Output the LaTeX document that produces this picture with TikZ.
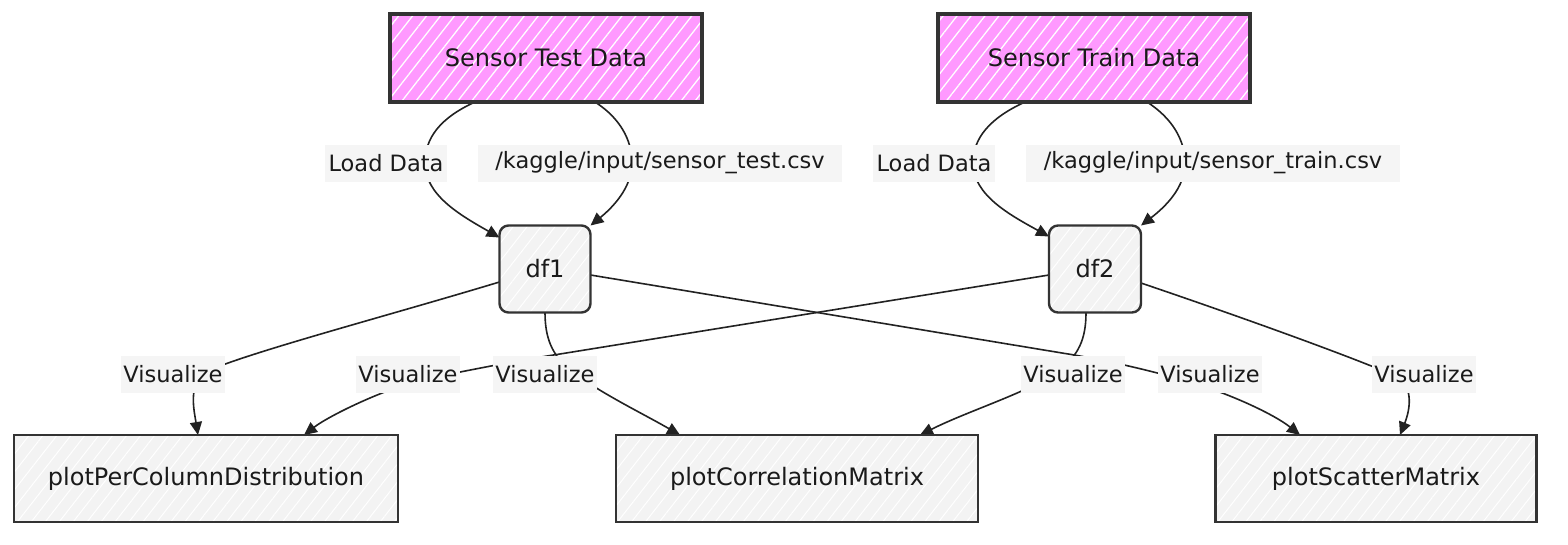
\documentclass[tikz,border=0pt]{standalone}
\usepackage{fontspec}
\setmainfont{DejaVu Sans}
\usetikzlibrary{arrows.meta,patterns.meta}
\definecolor{pinkfill}{HTML}{FF99FF}
\definecolor{grayfill}{HTML}{F3F3F3}
\definecolor{bordc}{HTML}{333333}
\definecolor{edgec}{HTML}{222222}
\definecolor{labfill}{HTML}{F5F5F5}
\definecolor{txtc}{HTML}{1A1A1A}
\pgfdeclarelayer{edgelayer}
\pgfsetlayers{edgelayer,main}
\begin{document}
\begin{tikzpicture}[x=1pt,y=-1pt,
  every node/.style={inner sep=0pt, outer sep=0pt, text=txtc},
  srcbox/.style={draw=bordc, line width=3.2pt, preaction={fill=pinkfill},
    pattern={Lines[angle=52,distance=11pt,line width=1.3pt]}, pattern color=white,
    minimum width=312pt, minimum height=88pt, font=\fontsize{24}{28}\selectfont},
  dfbox/.style={draw=bordc, line width=2.4pt, rounded corners=9pt, preaction={fill=grayfill},
    pattern={Lines[angle=52,distance=11pt,line width=1pt]}, pattern color=white,
    minimum width=91pt, minimum height=87pt, font=\fontsize{24}{28}\selectfont},
  plotbox/.style={draw=bordc, line width=2.4pt, preaction={fill=grayfill},
    pattern={Lines[angle=52,distance=11pt,line width=1pt]}, pattern color=white,
    minimum height=87pt, font=\fontsize{24}{28}\selectfont},
  lab/.style={fill=labfill, minimum height=37pt, font=\fontsize{22.5}{26}\selectfont},
  edge/.style={draw=edgec, line width=1.6pt, line cap=round, line join=round,
    -{Triangle[length=13pt,width=12pt]}}
]
\useasboundingbox (0,0) rectangle (1568,544);

% main nodes
\node[srcbox] (std) at (546,58) {Sensor Test Data};
\node[srcbox] (train) at (1094,58) {Sensor Train Data};
\node[dfbox] (df1) at (545,269) {df1};
\node[dfbox, minimum width=92pt] (df2) at (1095,269) {df2};
\node[plotbox, minimum width=384pt] (percol) at (206,478.5) {plotPerColumnDistribution};
\node[plotbox, minimum width=362pt] (corr) at (797,478.5) {plotCorrelationMatrix};
\node[plotbox, minimum width=321pt] (scatter) at (1376,478.5) {plotScatterMatrix};

% edge labels
\node[lab, minimum width=122pt] (l1) at (386,163) {Load Data};
\node[lab, minimum width=364pt] (l2) at (660,163) {/kaggle/input/sensor\_test.csv};
\node[lab, minimum width=122pt] (l3) at (934,163) {Load Data};
\node[lab, minimum width=374pt] (l4) at (1213,163) {/kaggle/input/sensor\_train.csv};
\node[lab, minimum width=104pt] (v1) at (173,374) {Visualize};
\node[lab, minimum width=104pt] (v2) at (408,374) {Visualize};
\node[lab, minimum width=104pt] (v3) at (545,374) {Visualize};
\node[lab, minimum width=104pt] (v4) at (1073,374) {Visualize};
\node[lab, minimum width=104pt] (v5) at (1210,374) {Visualize};
\node[lab, minimum width=104pt] (v6) at (1424,374) {Visualize};

\begin{pgfonlayer}{edgelayer}
% load edges
\draw[edge] ([xshift=-71pt]std.south) .. controls (440,118) and (425,138) .. (425,163)
  .. controls (425,195) and (460,215) .. ([yshift=-12pt]df1.north west);
\draw[edge] ([xshift=49pt]std.south) .. controls (620,118) and (632,140) .. (632,163)
  .. controls (632,188) and (612,208) .. (df1.north east);
\draw[edge] ([xshift=-69pt]train.south) .. controls (990,118) and (973,138) .. (973,163)
  .. controls (973,195) and (1010,215) .. ([yshift=-11pt]df2.north west);
\draw[edge] ([xshift=53pt]train.south) .. controls (1172,118) and (1185,140) .. (1185,163)
  .. controls (1185,188) and (1165,207) .. (df2.north east);

% visualize edges
\draw[edge] ([yshift=-13pt]df1.west) .. controls (380,318) and (250,352) .. (205,372)
  .. controls (188,385) and (194,410) .. ([xshift=-8pt]percol.north);
\draw[edge] ([yshift=-6pt]df2.west) -- (560,354) .. controls (520,360) and (470,370) .. (430,378)
  .. controls (390,386) and (330,415) .. ([xshift=98pt]percol.north);
\draw[edge] (df1.south) .. controls (545,338) and (552,355) .. (570,370)
  .. controls (600,393) and (640,412) .. ([xshift=-117pt]corr.north);
\draw[edge] ([yshift=-6pt]df1.east) -- (1062,353) .. controls (1100,359) and (1140,368) .. (1180,379)
  .. controls (1230,393) and (1275,415) .. ([xshift=-76pt]scatter.north);
\draw[edge] ([xshift=-9pt]df2.south) .. controls (1086,340) and (1078,355) .. (1060,370)
  .. controls (1030,392) and (970,410) .. ([xshift=123pt]corr.north);
\draw[edge] ([yshift=-14pt]df2.east) .. controls (1250,320) and (1360,360) .. (1400,378)
  .. controls (1415,392) and (1408,415) .. ([xshift=24pt]scatter.north);
\end{pgfonlayer}
\end{tikzpicture}
\end{document}
